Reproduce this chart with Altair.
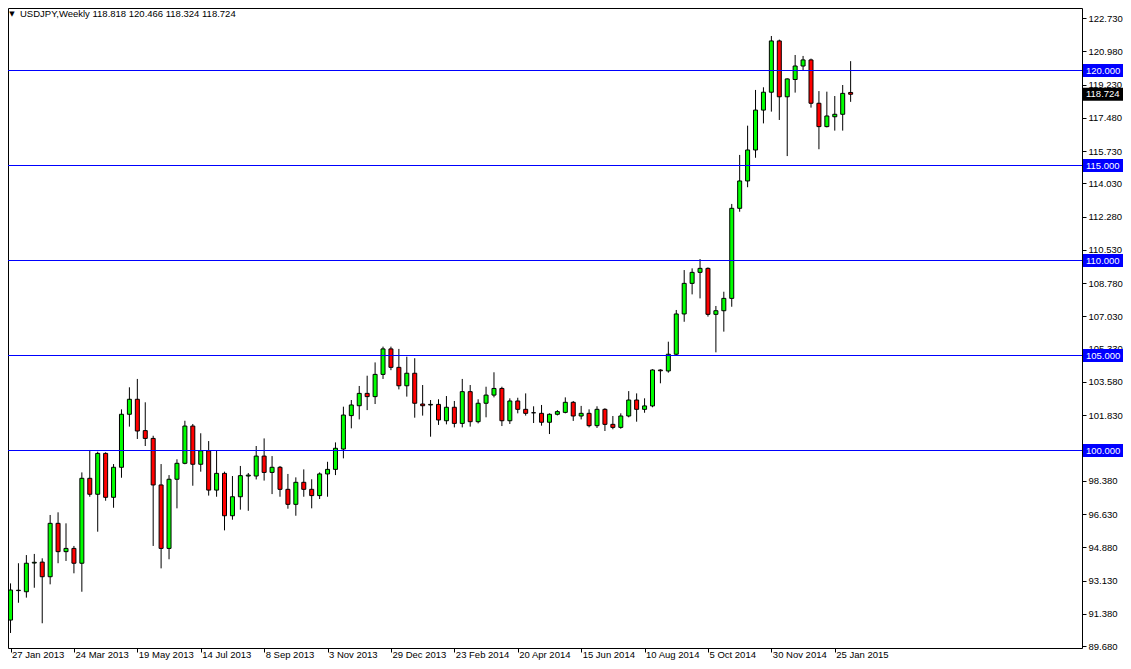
import altair as alt
import pandas as pd

symbol = "USDJPY,Weekly"

date_labels = ["27 Jan 2013", "24 Mar 2013", "19 May 2013", "14 Jul 2013", "8 Sep 2013",
               "3 Nov 2013", "29 Dec 2013", "23 Feb 2014", "20 Apr 2014", "15 Jun 2014",
               "10 Aug 2014", "5 Oct 2014", "30 Nov 2014", "25 Jan 2015"]

opens = [91.05, 92.60, 92.54, 94.05, 94.10, 93.33, 96.14, 94.65, 94.82, 94.04,
         98.51, 97.67, 99.82, 97.51, 99.09, 101.88, 102.67, 101.02, 100.61, 98.16,
         94.82, 98.46, 99.30, 101.26, 99.25, 99.96, 97.89, 98.77, 96.54, 97.54,
         98.63, 98.63, 99.68, 98.82, 99.09, 97.93, 97.14, 98.30, 97.93, 97.60,
         98.74, 98.98, 100.05, 101.81, 102.33, 102.98, 102.81, 103.98, 105.32, 104.35,
         103.38, 104.04, 102.42, 102.37, 102.40, 101.54, 102.25, 101.40, 103.07, 101.49,
         102.46, 102.89, 103.24, 101.54, 102.58, 102.14, 101.96, 101.93, 101.46, 101.88,
         101.98, 102.51, 101.79, 101.93, 101.28, 102.14, 101.35, 101.19, 101.79, 102.63,
         102.14, 102.32, 104.21, 104.16, 105.04, 107.16, 108.77, 109.35, 109.56, 107.14,
         107.33, 107.98, 112.72, 114.16, 115.79, 117.89, 118.83, 121.53, 118.59, 119.50,
         120.21, 120.53, 118.25, 117.02, 117.54, 117.67, 118.818]

highs = [92.98, 94.04, 94.47, 94.53, 94.30, 96.58, 96.72, 96.14, 94.95, 98.82,
         100.00, 99.91, 99.88, 99.26, 102.14, 103.30, 103.74, 102.51, 100.75, 99.26,
         98.68, 99.51, 101.54, 101.37, 100.88, 100.47, 99.96, 98.86, 98.63, 99.16,
         98.79, 100.21, 100.61, 99.68, 99.16, 98.74, 98.56, 98.98, 98.46, 98.82,
         99.38, 100.40, 102.28, 102.63, 103.37, 103.91, 104.61, 105.44, 105.44, 105.32,
         104.91, 104.83, 103.42, 102.63, 102.67, 102.84, 102.58, 103.74, 103.42, 102.67,
         103.33, 104.09, 103.33, 102.72, 102.75, 102.98, 102.30, 102.37, 101.93, 102.10,
         102.77, 102.58, 102.32, 102.14, 102.30, 102.20, 101.79, 101.93, 103.10, 102.98,
         102.72, 104.25, 104.25, 105.70, 107.37, 109.47, 109.56, 110.05, 109.61, 107.58,
         108.33, 112.95, 115.53, 117.07, 118.95, 119.09, 121.79, 121.60, 119.56, 120.79,
         120.74, 120.60, 118.89, 118.86, 118.63, 119.21, 120.466]

lows = [90.37, 91.96, 92.23, 92.75, 90.88, 92.93, 94.04, 94.16, 93.51, 92.54,
        97.54, 95.70, 97.33, 96.96, 98.54, 101.23, 100.58, 100.21, 94.95, 93.77,
        94.25, 96.93, 99.25, 98.12, 98.86, 97.60, 97.54, 95.77, 96.33, 96.86,
        96.80, 98.45, 98.39, 97.68, 97.54, 96.91, 96.54, 97.54, 96.93, 97.42,
        97.54, 98.68, 99.56, 101.14, 101.61, 102.10, 102.42, 103.74, 104.20, 103.19,
        102.81, 101.70, 101.81, 100.70, 101.32, 101.35, 101.19, 101.19, 101.23, 101.40,
        101.72, 102.77, 101.26, 101.37, 101.93, 101.81, 101.42, 101.28, 100.84, 101.82,
        101.93, 101.53, 101.61, 101.19, 101.16, 101.00, 101.09, 101.12, 101.72, 101.49,
        101.96, 102.25, 103.51, 104.07, 104.95, 106.75, 108.19, 107.98, 107.02, 105.14,
        106.23, 107.54, 112.54, 113.83, 115.38, 117.19, 117.81, 117.37, 115.47, 118.81,
        120.00, 118.02, 115.83, 116.98, 116.81, 116.81, 118.324]

closes = [92.63, 92.62, 94.04, 94.09, 93.33, 96.14, 94.65, 94.82, 94.04, 98.51,
          97.67, 99.82, 97.51, 99.09, 101.88, 102.67, 101.00, 100.61, 98.16, 94.82,
          98.46, 99.30, 101.26, 99.25, 99.96, 97.89, 98.77, 96.54, 97.54, 98.65,
          98.68, 99.68, 98.82, 99.09, 97.93, 97.14, 98.30, 97.93, 97.60, 98.74,
          98.98, 100.09, 101.84, 102.37, 102.98, 102.81, 103.98, 105.32, 104.35, 103.38,
          104.04, 102.46, 102.33, 102.40, 101.58, 102.25, 101.40, 103.07, 101.49, 102.46,
          102.89, 103.24, 101.54, 102.58, 102.14, 101.93, 101.96, 101.46, 101.88, 102.02,
          102.51, 101.79, 101.93, 101.28, 102.14, 101.35, 101.19, 101.79, 102.63, 102.14,
          102.32, 104.21, 104.17, 105.04, 107.16, 108.77, 109.35, 109.56, 107.14, 107.33,
          107.98, 112.72, 114.16, 115.79, 117.89, 118.83, 121.53, 118.59, 119.53, 120.21,
          120.53, 118.25, 117.02, 117.58, 117.67, 118.77, 118.724]

levels = [100.0, 105.0, 110.0, 115.0, 120.0]

price_ticks = [122.73, 120.98, 119.23, 117.48, 115.73, 114.03, 112.28, 110.53, 108.78,
               107.03, 105.33, 103.58, 101.83, 98.38, 96.63, 94.88, 93.13, 91.38, 89.68]

# ---------------------------------------------------------------- layout
W, H = 1074, 640
FONT = "Liberation Sans"
FS = 9.5

n = len(opens)
df = pd.DataFrame({"i": list(range(n)), "open": opens, "high": highs,
                   "low": lows, "close": closes})
df["dir"] = ["up" if c >= o else "down" for o, c in zip(opens, closes)]

x0 = 0.3125
x_scale = alt.Scale(domain=[x0, x0 + W / 8], nice=False, zero=False)
y_top = 100 + 442 / 19
y_scale = alt.Scale(domain=[y_top - H / 19, y_top], nice=False, zero=False)

label_expr = "[" + ",".join("'%s'" % d for d in date_labels) + "][round(datum.value / 8)]"

x_axis = alt.Axis(values=[8 * k for k in range(len(date_labels))], labelExpr=label_expr,
                  title=None, domain=False, grid=False, tickSize=4, tickColor="black",
                  labelAlign="left", labelBaseline="top", labelPadding=-3, labelOffset=1,
                  labelFlush=False, labelOverlap=False, labelFont=FONT,
                  labelFontSize=FS, labelColor="black")
y_axis = alt.Axis(orient="right", values=price_ticks, format=".3f", title=None,
                  domain=False, grid=False, tickSize=4, tickColor="black",
                  labelPadding=2, labelFlush=False, labelOverlap=False,
                  labelFont=FONT, labelFontSize=FS, labelColor="black")

X = alt.X("i:Q", scale=x_scale, axis=x_axis)

base = alt.Chart(df)
wicks = base.mark_rule(color="black", strokeWidth=1).encode(
    x=X, y=alt.Y("low:Q", scale=y_scale, axis=y_axis), y2="high:Q")
bodies = base.mark_bar(size=4, stroke="black", strokeWidth=1).encode(
    x=X, y=alt.Y("open:Q", scale=y_scale, axis=y_axis), y2="close:Q",
    color=alt.Color("dir:N", scale=alt.Scale(domain=["up", "down"],
                                             range=["#00FF00", "#FF0000"]), legend=None))

levels_df = pd.DataFrame({"level": levels, "label": ["%.3f" % v for v in levels]})
LY = alt.Y("level:Q", scale=y_scale, axis=y_axis)
level_lines = alt.Chart(levels_df).mark_rule(color="#0000FF", strokeWidth=1,
                                             yOffset=0.5).encode(y=LY)
level_boxes = alt.Chart(levels_df).mark_rect(color="#0000FF", yOffset=-6, y2Offset=7).encode(
    x=alt.value(W + 1), x2=alt.value(W + 42), y=LY, y2="level:Q")
level_text = alt.Chart(levels_df).mark_text(color="white", align="left", baseline="middle",
                                            font=FONT, fontSize=FS, dy=0.5).encode(
    x=alt.value(W + 4), y=LY, text="label:N")

price_df = pd.DataFrame({"price": [closes[-1]], "label": ["%.3f" % closes[-1]]})
PY = alt.Y("price:Q", scale=y_scale, axis=y_axis)
price_box = alt.Chart(price_df).mark_rect(color="black", yOffset=-6.5, y2Offset=6.5).encode(
    x=alt.value(W + 1), x2=alt.value(W + 42), y=PY, y2="price:Q")
price_text = alt.Chart(price_df).mark_text(color="white", align="left", baseline="middle",
                                           font=FONT, fontSize=FS).encode(
    x=alt.value(W + 4), y=PY, text="label:N")

header_df = pd.DataFrame({"text": ["%s  %.3f %.3f %.3f %.3f" % (symbol, opens[-1], highs[-1],
                                                                 lows[-1], closes[-1])]})
triangle = alt.Chart(header_df).mark_text(text="▼", font="DejaVu Sans", fontSize=7,
                                          color="black", baseline="middle").encode(
    x=alt.value(4), y=alt.value(6))
header = alt.Chart(header_df).mark_text(align="left", baseline="middle", font=FONT,
                                        fontSize=FS, color="black").encode(
    x=alt.value(12), y=alt.value(6), text="text:N")

chart = alt.layer(wicks, bodies, level_lines, level_boxes, level_text,
                  price_box, price_text, triangle, header).properties(
    width=W, height=H,
    padding={"left": 0, "top": 0, "right": 41, "bottom": 12},
    autosize=alt.AutoSizeParams(type="none"),
    background="white",
).configure_view(stroke="black", strokeWidth=1)

chart.save("out.html", embed_options={"renderer": "svg", "actions": False})
